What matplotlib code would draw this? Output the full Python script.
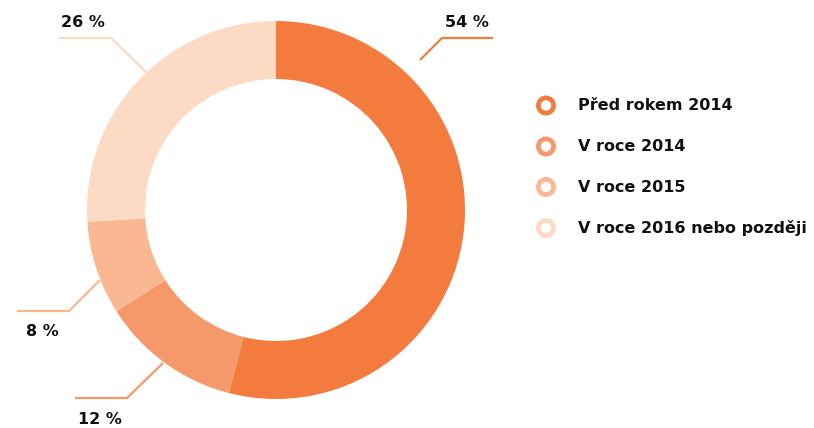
import matplotlib.pyplot as plt
from matplotlib.patches import Circle

labels = ["Před rokem 2014", "V roce 2014", "V roce 2015", "V roce 2016 nebo později"]
values = [54, 12, 8, 26]
colors = ["#F47B3E", "#F5986A", "#F9B891", "#FCDAC3"]
pct_labels = ["54 %", "12 %", "8 %", "26 %"]

W, H = 814, 428
fig = plt.figure(figsize=(W / 100, H / 100), dpi=100)
ax = fig.add_axes([0, 0, 1, 1])
ax.set_xlim(0, W)
ax.set_ylim(0, H)
ax.set_aspect("equal")
ax.axis("off")

def Y(y):
    # pixel y (from top) -> data y
    return H - y

FONT = dict(fontsize=11.5, fontweight="bold", family="DejaVu Sans", color="#111111")

cx, cy = 276, 210
ax.pie(values, colors=colors, startangle=90, counterclock=False,
       center=(cx, Y(cy)), radius=189, frame=True,
       wedgeprops=dict(width=58, linewidth=0))
ax.set_xlim(0, W)
ax.set_ylim(0, H)
ax.axis("off")

# leader lines (pixel coords) and label positions
leaders = [
    [(420, 60), (442, 38), (493, 38)],
    [(163, 363), (127, 398), (75, 398)],
    [(100, 280), (69, 311), (17, 311)],
    [(147, 73), (111, 38), (59, 38)],
]
label_pos = [(467, 22), (100, 419), (42, 331), (83, 22)]
for i in range(4):
    xs = [p[0] for p in leaders[i]]
    ys = [Y(p[1]) for p in leaders[i]]
    ax.plot(xs, ys, color=colors[i], lw=1.6, solid_capstyle="butt")
    lx, ly = label_pos[i]
    ax.text(lx, Y(ly), pct_labels[i], ha="center", va="center", **FONT)

# legend
for i, lab in enumerate(labels):
    ly = [105.5, 146.5, 187, 228][i]
    ax.add_patch(Circle((546, Y(ly)), 7.6, facecolor="none", edgecolor=colors[i], lw=3.4))
    ax.text(578, Y(ly), lab, ha="left", va="center", **FONT)

fig.savefig("out.png", dpi=100)
